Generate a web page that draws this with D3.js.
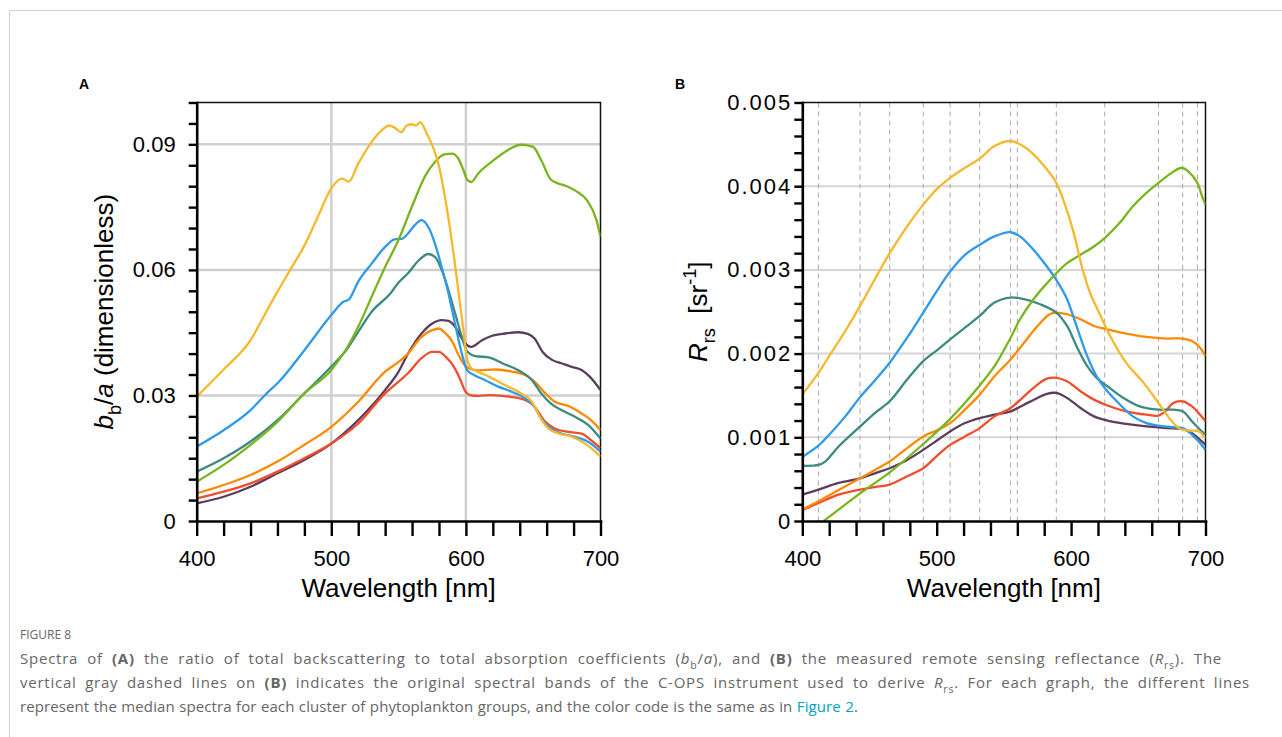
<!DOCTYPE html>
<html>
<head>
<meta charset="utf-8">
<script src="https://cdn.jsdelivr.net/npm/d3@7"></script>
<style>
  body { margin: 0; background: #fff; }
  svg text { font-family: "Liberation Sans", Arial, sans-serif; }
  .caption text { font-family: "Open Sans", "Noto Sans", sans-serif; fill: #666; }
</style>
</head>
<body>
<svg width="1282" height="737"></svg>
<script>
// --- data: panel A, bb/a (wavelength nm, value) ---
const bbaPurple = [[400,.0042],[420,.0058],[440,.0082],[460,.0114],[480,.0146],[500,.0185],[520,.0241],[540,.0313],[550,.0357],[557,.040],[567,.0448],[575,.0472],[582,.048],[587,.0478],[592,.0464],[597,.0436],[601,.042],[604,.0416],[612,.0432],[619,.0442],[629,.0448],[639,.0451],[646,.0447],[651,.0436],[657,.0404],[664,.0385],[671,.0377],[678,.0369],[686,.0361],[692,.0345],[700,.0313]];
const bbaRed = [[400,.0054],[420,.007],[440,.009],[460,.0118],[480,.015],[500,.0185],[520,.0233],[540,.0305],[550,.0333],[557,.0353],[567,.0389],[575,.0404],[580,.0404],[585,.0392],[591,.0369],[596,.0337],[599,.0313],[603,.0301],[609,.0299],[619,.0301],[632,.0297],[644,.0289],[651,.0273],[659,.0237],[666,.0221],[676,.0213],[686,.0209],[693,.0193],[700,.0174]];
const bbaOrange = [[400,.0066],[420,.0086],[440,.011],[460,.0142],[480,.0182],[500,.0225],[520,.0285],[540,.0357],[550,.038],[557,.040],[567,.044],[575,.0456],[580,.046],[585,.0448],[590,.0428],[594,.040],[598,.0377],[602,.0365],[609,.036],[622,.0362],[634,.0357],[644,.0349],[651,.0333],[659,.0305],[666,.0285],[676,.0275],[686,.0257],[693,.0241],[700,.0217]];
const bbaTeal = [[400,.0118],[420,.015],[440,.019],[460,.0241],[480,.0305],[500,.0369],[511,.0408],[520,.0452],[530,.050],[544,.0544],[550,.057],[557,.0592],[565,.0623],[572,.0638],[577,.0631],[582,.060],[587,.0552],[592,.0496],[597,.044],[601,.0405],[607,.0394],[617,.0391],[627,.0377],[639,.036],[649,.0337],[656,.0305],[663,.0281],[671,.0265],[681,.0249],[691,.0229],[700,.0197]];
const bbaBlue = [[400,.0178],[420,.0217],[440,.0265],[452,.0305],[460,.0329],[480,.0408],[500,.0492],[509,.0524],[513,.0529],[520,.0572],[530,.0615],[540,.0655],[547,.0673],[553,.0675],[557,.0687],[562,.0707],[567,.0719],[572,.0703],[577,.0663],[582,.0607],[587,.0545],[592,.047],[597,.040],[601,.036],[606,.0349],[614,.0337],[624,.0321],[634,.0309],[644,.0293],[650,.0277],[656,.0245],[663,.0221],[671,.0209],[681,.0201],[691,.0189],[700,.0166]];
const bbaGreen = [[400,.0094],[420,.0134],[440,.0182],[460,.0237],[480,.0305],[500,.0361],[510,.0405],[520,.0464],[530,.0536],[540,.0607],[550,.0672],[560,.0752],[570,.0826],[577,.0858],[584,.0876],[590,.0878],[594,.0868],[598,.084],[601,.0815],[604,.081],[609,.083],[619,.0858],[631,.0886],[641,.0899],[645,.0898],[650,.0894],[656,.0862],[663,.0816],[669,.0806],[675,.080],[681,.079],[690,.0766],[697,.0719],[700,.0679]];
const bbaYellow = [[400,.0297],[420,.0362],[440,.0432],[450,.049],[460,.0548],[470,.0603],[480,.0658],[490,.0727],[500,.0795],[508,.0818],[513,.0811],[520,.0854],[530,.0906],[538,.0935],[543,.0945],[547,.094],[552,.0929],[556,.0945],[560,.0948],[563,.0945],[566,.0953],[571,.0925],[576,.089],[580,.0848],[584,.0782],[588,.0703],[591.5,.0623],[595,.0535],[598,.046],[601,.0385],[604,.0365],[608,.0358],[617,.0345],[629,.0325],[641,.0305],[649,.0285],[656,.0243],[661,.0222],[669,.0209],[679,.0201],[688,.0186],[696,.0166],[700,.0154]];

// --- data: panel B, Rrs (wavelength nm, sr^-1) ---
const rrsPurple = [[400,.000315],[412,.000375],[427,.000455],[443,.00051],[454,.00057],[465,.00063],[478,.00073],[490,.00085],[501,.00097],[510,.00107],[521,.00117],[532,.00123],[543,.00127],[555,.00131],[565,.00139],[575,.00147],[582,.00152],[589,.00153],[597,.00147],[607,.00135],[617,.00125],[627,.0012],[641,.00116],[656,.00113],[671,.00111],[683,.0011],[690,.00105],[696,.00097],[700,.00091]];
const rrsRed = [[400,.000127],[412,.000215],[427,.000315],[443,.000375],[454,.000405],[465,.000435],[478,.000535],[490,.00063],[501,.00079],[510,.00091],[521,.00101],[532,.00111],[543,.00125],[555,.00135],[565,.00149],[575,.00163],[582,.0017],[589,.00171],[597,.00167],[607,.00155],[617,.00145],[627,.00138],[641,.00131],[656,.00127],[665,.00126],[670,.00131],[676,.00141],[683,.00143],[690,.00137],[696,.00127],[700,.00119]];
const rrsOrange = [[400,.000135],[412,.000235],[427,.00037],[443,.00051],[454,.00061],[465,.00071],[478,.00087],[490,.00101],[501,.00109],[510,.00117],[521,.00133],[532,.00151],[543,.00173],[555,.00193],[565,.00213],[575,.00233],[584,.00247],[589,.00249],[597,.00247],[607,.00241],[617,.00233],[627,.00229],[641,.00224],[656,.0022],[671,.00218],[683,.00218],[690,.00215],[696,.00207],[700,.00197]];
const rrsTeal = [[400,.00066],[412,.00067],[417,.00071],[427,.00089],[443,.00113],[454,.00129],[465,.00143],[478,.00169],[490,.00191],[501,.00205],[510,.00217],[521,.00231],[532,.00245],[543,.00261],[555,.00267],[565,.00265],[577,.00259],[589,.00249],[597,.00233],[604,.00209],[612,.00185],[619,.00171],[627,.00161],[639,.00147],[651,.00137],[665,.00133],[676,.00133],[683,.00131],[690,.00119],[696,.00109],[700,.00103]];
const rrsBlue = [[400,.000765],[412,.0009],[420,.00103],[432,.00125],[443,.00148],[454,.00168],[465,.00189],[478,.00219],[490,.00249],[501,.00277],[510,.00298],[521,.00318],[532,.0033],[543,.0034],[555,.00345],[562,.0034],[572,.00324],[582,.00304],[589,.00288],[597,.00265],[604,.00233],[612,.00197],[619,.00173],[625,.00159],[634,.00143],[646,.00125],[656,.00117],[665,.00114],[676,.00112],[683,.00111],[690,.00103],[696,.00093],[700,.00085]];
const rrsGreen = [[400,-.0002],[416,0],[443,.00033],[465,.00058],[490,.00092],[510,.00122],[532,.00162],[543,.00185],[555,.00219],[562,.00241],[572,.00265],[582,.00284],[589,.00296],[597,.00308],[607,.00318],[617,.00328],[625,.00338],[636,.00356],[646,.00376],[656,.00392],[665,.00404],[674,.00415],[680,.00421],[683,.00422],[687,.00418],[694,.00404],[697,.0039],[700,.00378]];
const rrsYellow = [[400,.00151],[412,.00177],[420,.00197],[432,.00227],[443,.00257],[454,.00289],[465,.0032],[478,.00352],[490,.00378],[501,.00398],[510,.0041],[521,.00422],[532,.00433],[543,.00448],[555,.00454],[562,.0045],[572,.00438],[582,.0042],[589,.00404],[595,.0038],[602,.00344],[608,.00304],[614,.00273],[622,.00245],[629,.00221],[641,.00189],[654,.00165],[665,.00141],[674,.00121],[680,.00111],[683,.00109],[689,.00108],[695,.00107],[700,.00099]];

// C-OPS bands shown as dashed lines on panel B
const bands = [412, 443, 465, 490, 510, 532, 555, 560, 589, 625, 665, 683, 694];

const colors = ["#5b3e5d", "#f24e2c", "#ff8a00", "#3e8a83", "#2e9ae9", "#7ab51d", "#f6b82c"];
const xTicks = d3.range(400, 701, 20);

const svg = d3.select("svg");

// page frame
svg.append("rect").attr("x", 9.5).attr("y", 10.5).attr("width", 1300).attr("height", 800)
  .attr("fill", "none").attr("stroke", "#d2d2d2");

function drawPanel(p) {
  const g = svg.append("g");
  const x = d3.scaleLinear().domain([400, 700]).range([p.left, p.right]);
  const y = d3.scaleLinear().domain([0, p.yMax]).range([p.bottom, p.top]);

  // grid
  g.selectAll(".hg").data(p.gridY).join("line")
    .attr("x1", p.left).attr("x2", p.right)
    .attr("y1", d => y(d)).attr("y2", d => y(d))
    .attr("stroke", p.gridColor).attr("stroke-width", p.gridWidth);
  g.selectAll(".vg").data(p.gridX).join("line")
    .attr("x1", d => x(d)).attr("x2", d => x(d))
    .attr("y1", p.top).attr("y2", p.bottom)
    .attr("stroke", p.gridColor).attr("stroke-width", p.gridWidth);
  g.selectAll(".band").data(p.bands).join("line")
    .attr("x1", d => x(d)).attr("x2", d => x(d))
    .attr("y1", p.top).attr("y2", p.bottom)
    .attr("stroke", "#aaa").attr("stroke-width", 1).attr("stroke-dasharray", "5,4");

  // top/right frame
  g.append("path")
    .attr("d", `M${p.left},${p.top}H${p.right}V${p.bottom}`)
    .attr("fill", "none").attr("stroke", "#111").attr("stroke-width", 1.5);

  // clip
  g.append("clipPath").attr("id", p.id + "clip").append("rect")
    .attr("x", p.left).attr("y", p.top)
    .attr("width", p.right - p.left).attr("height", p.bottom - p.top);

  const line = d3.line()
    .x(d => x(d[0]))
    .y(d => y(d[1]))
    .curve(p.curve);

  g.append("g").attr("clip-path", `url(#${p.id}clip)`)
    .selectAll("path").data(p.series).join("path")
    .attr("d", line)
    .attr("fill", "none")
    .attr("stroke", (d, i) => colors[i])
    .attr("stroke-width", 2.3)
    .attr("stroke-linejoin", "round");

  // axes
  const ya = g.append("g").attr("transform", `translate(${p.left},0)`)
    .call(d3.axisLeft(y).tickValues(p.yTicks).tickSize(8).tickSizeOuter(0)
      .tickPadding(p.yPad).tickFormat(p.yFormat));
  const xa = g.append("g").attr("transform", `translate(0,${p.bottom})`)
    .call(d3.axisBottom(x).tickValues(xTicks).tickSize(15).tickSizeOuter(0)
      .tickPadding(14).tickFormat(d => d % 100 === 0 ? d : ""));
  [ya, xa].forEach(a => {
    a.select(".domain").attr("stroke", "#000").attr("stroke-width", 2.6).attr("stroke-linecap", "square");
    a.selectAll(".tick line").attr("stroke", "#000").attr("stroke-width", 2.4);
    a.selectAll(".tick text").attr("fill", "#000").style("font-size", "22px")
      .style("font-family", '"Liberation Sans", Arial, sans-serif');
  });
  ya.selectAll(".tick text").style("letter-spacing", p.ySpacing);

  // x title
  g.append("text")
    .attr("x", (p.left + p.right) / 2).attr("y", 597)
    .attr("text-anchor", "middle").style("font-size", "26px")
    .text("Wavelength [nm]");

  // y title
  const yt = g.append("text")
    .attr("transform", `translate(${p.yTitleX},${(p.top + p.bottom) / 2}) rotate(-90)`)
    .attr("text-anchor", "middle").style("font-size", "26px");
  rich(yt, p.yTitle, 26);

  // panel letter
  g.append("text").attr("x", p.letterX).attr("y", 89)
    .style("font-size", "14px").style("font-weight", "bold").text(p.letter);
}

// writes text parts with italic/bold/sub/sup into a text element
function rich(sel, parts, size) {
  let shift = 0;
  parts.forEach(pt => {
    const ts = sel.append("tspan").text(pt.t);
    let want = 0;
    if (pt.sub) want = size * 0.3;
    if (pt.sup) want = -size * 0.42;
    if (want !== shift) { ts.attr("dy", want - shift); shift = want; }
    if (pt.sub || pt.sup) ts.style("font-size", (size * 0.7) + "px");
    if (pt.i) ts.style("font-style", "italic");
    if (pt.b) ts.style("font-weight", "bold");
    if (pt.fill) ts.style("fill", pt.fill);
  });
}

const isMult = (d, s) => Math.abs(d / s - Math.round(d / s)) < 1e-6;

drawPanel({
  id: "a", letter: "A", letterX: 79,
  left: 196.7, right: 600.5, top: 102.5, bottom: 521,
  yMax: 0.1,
  yTicks: d3.range(0, 21).map(i => i * 0.005),
  yFormat: d => isMult(d, 0.03) ? (d === 0 ? "0" : d.toFixed(2)) : "",
  yPad: 13, ySpacing: "0px",
  gridY: [0.03, 0.06, 0.09], gridX: [500, 600], bands: [],
  gridColor: "#cfcfcf", gridWidth: 2.5,
  curve: d3.curveMonotoneX,
  series: [bbaPurple, bbaRed, bbaOrange, bbaTeal, bbaBlue, bbaGreen, bbaYellow],
  yTitleX: 113,
  yTitle: [{t: "b", i: true}, {t: "b", sub: true}, {t: "/"}, {t: "a", i: true}, {t: " (dimensionless)"}]
});

drawPanel({
  id: "b", letter: "B", letterX: 675,
  left: 802.3, right: 1205.5, top: 102.5, bottom: 521,
  yMax: 0.005,
  yTicks: d3.range(0, 26).map(i => i * 0.0002),
  yFormat: d => isMult(d, 0.001) ? (d === 0 ? "0" : d.toFixed(3)) : "",
  yPad: 2, ySpacing: "2px",
  gridY: [0.001, 0.002, 0.003, 0.004], gridX: [], bands: bands,
  gridColor: "#d6d6d6", gridWidth: 2,
  curve: d3.curveCatmullRom.alpha(0.5),
  series: [rrsPurple, rrsRed, rrsOrange, rrsTeal, rrsBlue, rrsGreen, rrsYellow],
  yTitleX: 707,
  yTitle: [{t: "R", i: true}, {t: "rs", sub: true}, {t: "\u00a0 [sr"}, {t: "-1", sup: true}, {t: "]"}]
});

// caption
const cap = svg.append("g").attr("class", "caption");
cap.append("text").attr("x", 20).attr("y", 639).style("font-size", "12px").text("FIGURE 8");

const capLines = [
  {y: 664, w: 1202, parts: [
    {t: "Spectra of "}, {t: "(A)", b: true}, {t: " the ratio of total backscattering to total absorption coefficients ("},
    {t: "b", i: true}, {t: "b", sub: true}, {t: "/"}, {t: "a", i: true}, {t: "), and "}, {t: "(B)", b: true},
    {t: " the measured remote sensing reflectance ("}, {t: "R", i: true}, {t: "rs", sub: true}, {t: "). The"}]},
  {y: 688, w: 1230, parts: [
    {t: "vertical gray dashed lines on "}, {t: "(B)", b: true},
    {t: " indicates the original spectral bands of the C-OPS instrument used to derive "},
    {t: "R", i: true}, {t: "rs", sub: true}, {t: ". For each graph, the different lines"}]},
  {y: 712, w: 838, parts: [
    {t: "represent the median spectra for each cluster of phytoplankton groups, and the color code is the same as in "},
    {t: "Figure 2", fill: "#00a3c4"}, {t: "."}]}
];
capLines.forEach(l => {
  const t = cap.append("text").attr("x", 20).attr("y", l.y).style("font-size", "15px");
  rich(t, l.parts, 15);
  // share the missing width between letters and word gaps
  const natural = t.node().getComputedTextLength();
  const str = l.parts.map(p => p.t).join("");
  const spaces = str.split(" ").length - 1;
  if (natural < l.w && spaces > 0) {
    const extra = l.w - natural;
    t.style("letter-spacing", (extra * 0.55 / str.length) + "px")
     .style("word-spacing", (extra * 0.45 / spaces) + "px");
  }
});
</script>
</body>
</html>
